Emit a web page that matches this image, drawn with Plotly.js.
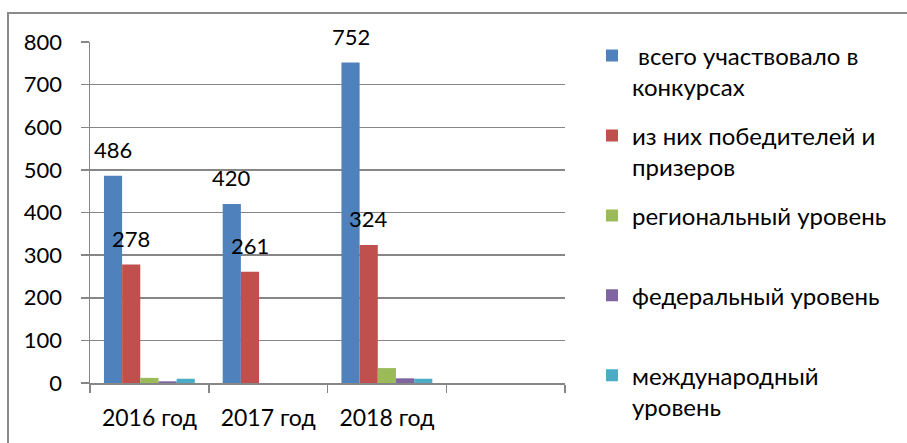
<!DOCTYPE html>
<html>
<head>
<meta charset="utf-8">
<script src="https://cdn.plot.ly/plotly-3.0.1.min.js"></script>
<style>
  html, body { margin: 0; padding: 0; background: #fff; }
  #wrap { position: relative; width: 907px; height: 443px; overflow: hidden; }
  #chart { width: 907px; height: 443px; }
  #frame { position: absolute; left: 7px; top: 12px; width: 920px; height: 460px;
           border-top: 2px solid #8a8a8a; border-left: 2px solid #8a8a8a; pointer-events: none; }
</style>
</head>
<body>
<div id="wrap"><div id="chart"></div><div id="frame"></div></div>
<script>
const categories = ['2016 год', '2017 год', '2018 год', ' '];
const seriesNames = [
  '\u00A0всего участвовало в<br>конкурсах',
  'из них победителей и<br>призеров',
  'региональный уровень<br>\u00A0',
  'федеральный уровень<br>\u00A0',
  'международный<br>уровень'
];
const totalParticipants = [486, 420, 752, null];
const winnersPrizewinners = [278, 261, 324, null];
const regionalLevel = [12, 0, 35, null];
const federalLevel = [4, 0, 11, null];
const internationalLevel = [10, 0, 10, null];
const colors = ['#4F81BD', '#C0504D', '#9BBB59', '#8064A2', '#4BACC6'];

const allSeries = [totalParticipants, winnersPrizewinners, regionalLevel, federalLevel, internationalLevel];
const labelled = [true, true, false, false, false];

const FONT = 'Lato, "Noto Sans", sans-serif';
const margin = {l: 90, r: 342, t: 42, b: 60};
const bargap = 0.235;

const traces = allSeries.map((vals, i) => ({
  type: 'bar',
  name: seriesNames[i],
  x: categories,
  y: vals,
  marker: {color: colors[i], line: {width: 0}},
  legendgroup: 'g' + i,
  hoverinfo: 'skip'
}));

const plotW = 907 - margin.l - margin.r;
const catW = plotW / categories.length;
const barW = catW * (1 - bargap) / allSeries.length;

const annotations = [];
allSeries.forEach((vals, i) => {
  if (!labelled[i]) return;
  vals.forEach((v, j) => {
    if (v === null || v === undefined) return;
    annotations.push({
      x: categories[j], y: v, xref: 'x', yref: 'y',
      text: String(v), showarrow: false,
      xanchor: 'center', yanchor: 'middle',
      xshift: (i - (allSeries.length - 1) / 2) * barW,
      yshift: 26,
      font: {family: FONT, size: 22, color: '#000'}
    });
  });
});

const layout = {
  width: 907, height: 443,
  margin: margin,
  paper_bgcolor: '#fff', plot_bgcolor: '#fff',
  barmode: 'group', bargap: bargap, bargroupgap: 0,
  font: {family: FONT, size: 22, color: '#000'},
  showlegend: true,
  legend: {
    x: 1.0568, xref: 'paper', xanchor: 'left', y: 1.025, yanchor: 'top',
    valign: 'top', traceorder: 'grouped', tracegroupgap: 14.5,
    maxheight: 443,
    font: {family: FONT, size: 24, color: '#000'},
    bgcolor: 'rgba(0,0,0,0)'
  },
  xaxis: {
    type: 'category', categoryorder: 'array', categoryarray: categories,
    range: [-0.5, categories.length - 0.5],
    tickson: 'boundaries', ticks: 'outside', ticklen: 8, tickcolor: '#868686', tickwidth: 1.5,
    showline: true, linecolor: '#868686', linewidth: 1.5,
    showgrid: false, zeroline: false,
    tickfont: {family: FONT, size: 23, color: '#000'},
    ticklabelstandoff: 14
  },
  yaxis: {
    range: [0, 800], tickvals: [0, 100, 200, 300, 400, 500, 600, 700, 800],
    ticks: 'outside', ticklen: 8, tickcolor: '#868686', tickwidth: 1.5,
    showline: true, linecolor: '#868686', linewidth: 1.5,
    showgrid: true, gridcolor: '#868686', gridwidth: 1.5,
    zeroline: false,
    tickfont: {family: FONT, size: 22, color: '#000'},
    ticklabelstandoff: 14
  },
  annotations: annotations
};

Plotly.newPlot('chart', traces, layout, {staticPlot: true, displayModeBar: false});
</script>
</body>
</html>
